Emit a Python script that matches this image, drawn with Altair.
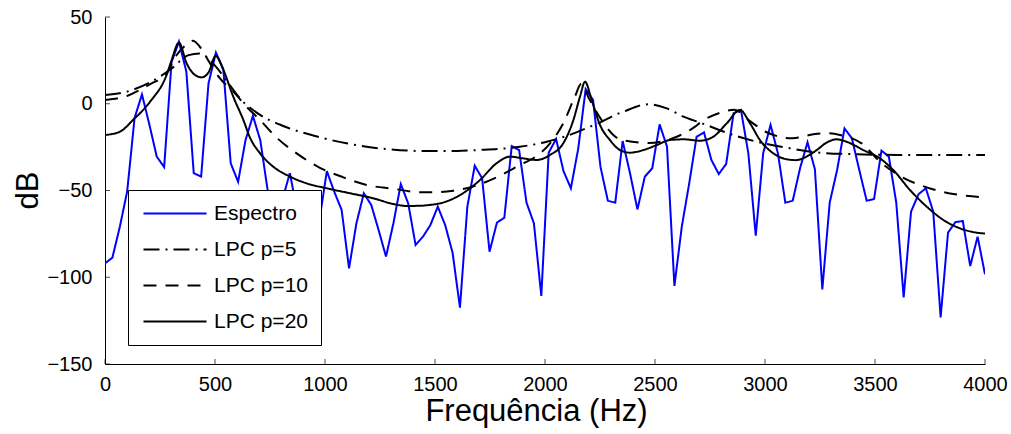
import altair as alt
import numpy as np
import pandas as pd

# ---------------- data ----------------
spec_db = [
    -92, -88.7, -71, -50.5, -8.2, 5.4, -12, -30.5, -36.5, 24,
    35.8, 18.5, -40, -42, 11.8, 29.5, 20, -34.3, -45, -21,
    -7, -21, -50, -70, -55, -40, -62, -80, -75, -67,
    -38.8, -50.7, -61.2, -94.9, -68.9, -51.6, -58.3, -72.8, -88.1, -68.9,
    -46.3, -57.4, -81.4, -76.6, -69.9, -59.3, -69.9, -85.8, -117.5, -59.3,
    -35.7, -43, -85.3, -68.5, -65.7, -24.4, -26.7, -57, -68.9, -110.8,
    -28.2, -20.3, -38.8, -48.7, -25.7, 8.5, 2.2, -36.3, -55.9, -57,
    -21.5, -40.1, -60.9, -42, -37.2, -11.9, -24.7, -105, -70.8, -45.9,
    -19, -16.5, -32.4, -40.5, -34.7, -5.5, -3.6, -28.6, -76, -28.6,
    -12.2, -28.6, -57, -55.9, -37, -22.2, -37.8, -107, -57, -38.2,
    -14.2, -19.9, -38.2, -55.9, -54.9, -27, -30.5, -57, -111.6, -62.2,
    -52.2, -48.7, -62.2, -123.1, -74.3, -68.2, -67.6, -93.5, -76.6, -98.3,
]
spec_f = list(np.linspace(0, 4000, len(spec_db)))

p5_f = [0, 100, 200, 300, 380, 430, 500, 560, 614, 700, 810, 955, 1098, 1295, 1439,
        1600, 1689, 1886, 2008, 2098, 2205, 2258, 2318, 2356, 2470, 2550, 2629, 2705,
        2870, 3000, 3114, 3250, 3417, 3600, 3800, 4000]
p5_db = [5, 7, 12, 20, 28, 29, 22, 12, 3, -6, -12.8, -18.6, -22.8, -26.3, -27.2,
         -27.2, -26.7, -24.8, -21.9, -18.6, -13.2, -10.3, -6.5, -4.6, -0.3, -2.5, -7.4, -10.9,
         -18.6, -23, -25.7, -28.2, -29.1, -29.5, -29.5, -29.5]

p10_f = [0, 100, 212, 273, 326, 370, 400, 430, 477, 520, 591, 636, 705, 780, 871, 977,
         1083, 1189, 1311, 1432, 1500, 1584, 1659, 1780, 1886, 1962, 2023, 2083, 2136,
         2165, 2200, 2250, 2348, 2470, 2576, 2682, 2705, 2800, 2860, 2932, 3000, 3124,
         3220, 3280, 3341, 3439, 3530, 3614, 3735, 3856, 4000]
p10_db = [2.2, 4.5, 11.8, 16.2, 28.1, 34, 36.3, 33, 23.3, 15, 6.0, -0.7, -9.4, -19.5, -28.6, -36.9,
          -42.4, -46.8, -49, -51, -51, -50.1, -48.2, -42.4, -35.3, -30.1, -22.8, -11.3, 4.1,
          11.5, 3, -8, -20.9, -22.6, -20.1, -13.2, -10.9, -5, -3.5, -10, -16, -19.9,
          -17.6, -17, -18, -22.8, -34.3, -41.6, -48.2, -52, -54]

p20_f = [0, 68, 127, 205, 280, 303, 336, 371, 409, 439, 470, 503, 538, 583, 629, 659, 705,
         765, 841, 917, 1007, 1114, 1220, 1311, 1371, 1432, 1477, 1523, 1614, 1705, 1780,
         1841, 1902, 1962, 2023, 2083, 2129, 2159, 2182, 2212, 2250, 2295, 2341, 2386, 2447,
         2508, 2568, 2629, 2705, 2765, 2826, 2886, 2932, 2977, 3038, 3098, 3140, 3180, 3235,
         3280, 3326, 3371, 3447, 3523, 3583, 3659, 3735, 3811, 3886, 3962, 4000]
p20_db = [-18, -16.1, -9.4, 1.2, 16.6, 25.2, 35.2, 23.3, 16.6, 15.2, 17.9, 27.5, 19.5, 4.1, -9.4, -19.5, -28.6,
          -36.3, -42, -45.9, -48.7, -51.6, -54.5, -57.8, -58.9, -58.8, -58.3, -57.4, -52.6, -43.9, -34.3,
          -30.5, -31.5, -32.4, -29.5, -22.8, -9.4, 4.1, 12.7, 2.2, -12.2, -20.9, -26.7, -28.2, -26.7,
          -23.8, -20.9, -20.5, -21.3, -19, -11.3, -3.6, -11.3, -20.9, -28.6, -32, -32.5, -31, -26.7,
          -22.4, -20.5, -21.9, -26.7, -31.5, -38.2, -49.7, -59.3, -67, -71.8, -74.3, -74.8]

series_names = ["Espectro", "LPC p=5", "LPC p=10", "LPC p=20"]
x_ticks = [0, 500, 1000, 1500, 2000, 2500, 3000, 3500, 4000]
y_ticks = [-150, -100, -50, 0, 50]

# ---------------- build tables ----------------
spec_df = pd.DataFrame({"f": spec_f, "db": spec_db, "series": series_names[0]})
frames = []
for name, fs, ds in zip(series_names[1:], [p5_f, p10_f, p20_f], [p5_db, p10_db, p20_db]):
    frames.append(pd.DataFrame({"f": fs, "db": ds, "series": name}))
lpc_df = pd.concat(frames, ignore_index=True)

W, H = 880, 347
FONT = "Liberation Sans"

xscale = alt.Scale(domain=[0, 4000], nice=False, zero=False)
yscale = alt.Scale(domain=[-150, 50], nice=False, zero=False)

xaxis = alt.Axis(title="Frequência (Hz)", values=x_ticks, format="d", ticks=False, tickSize=0, grid=False,
                 domainColor="black", domainWidth=1, labelFont=FONT, labelFontSize=20,
                 labelColor="black", labelPadding=10, labelFlush=False,
                 titleFont=FONT, titleFontSize=31, titleFontWeight="normal", titleColor="black",
                 titleX=431, titleY=47, titleBaseline="middle", titleAlign="center")
yaxis = alt.Axis(title="dB", values=y_ticks, format="d", ticks=False, tickSize=0, grid=False,
                 domainColor="black", domainWidth=1, labelFont=FONT, labelFontSize=20,
                 labelColor="black", labelPadding=13, labelFlush=False,
                 titleFont=FONT, titleFontSize=31, titleFontWeight="normal", titleColor="black",
                 titleX=-77, titleY=173, titleBaseline="middle", titleAlign="center", titleAngle=270)

# long stroke symbol: path in units scaled by sqrt(size)/2
legend = alt.Legend(title=None, orient="none", legendX=23, legendY=173,
                    fillColor="white", strokeColor="black", padding=13, cornerRadius=0,
                    symbolType="M-1.27,0H8.73", symbolSize=159, symbolStrokeWidth=2,
                    labelFont=FONT, labelFontSize=21, labelColor="black", labelOffset=52,
                    rowPadding=14, labelLimit=300)

color_enc = alt.Color("series:N", scale=alt.Scale(domain=series_names,
                      range=["#0000ff", "black", "black", "black"]), legend=legend)
dash_enc = alt.StrokeDash("series:N", scale=alt.Scale(domain=series_names,
                          range=[[1, 0], [16, 6, 2, 6], [13, 9], [1, 0]]), legend=legend)

spec_layer = alt.Chart(spec_df).mark_line(strokeWidth=2, clip=True).encode(
    x=alt.X("f:Q", scale=xscale, axis=xaxis),
    y=alt.Y("db:Q", scale=yscale, axis=yaxis),
    color=color_enc, strokeDash=dash_enc, order=alt.Order("f:Q"),
)
lpc_layer = alt.Chart(lpc_df).mark_line(strokeWidth=2, interpolate="monotone", clip=True).encode(
    x=alt.X("f:Q", scale=xscale, axis=xaxis),
    y=alt.Y("db:Q", scale=yscale, axis=yaxis),
    color=color_enc, strokeDash=dash_enc, order=alt.Order("f:Q"),
)

xt_df = pd.DataFrame({"f": x_ticks})
yt_df = pd.DataFrame({"db": y_ticks})

xtick_layer = alt.Chart(xt_df).mark_tick(orient="vertical", size=5, thickness=1, color="black").encode(
    x=alt.X("f:Q", scale=xscale, axis=xaxis),
    y=alt.value(H - 2.5),
)
ytick_layer = alt.Chart(yt_df).mark_tick(orient="horizontal", size=5, thickness=1, color="black").encode(
    y=alt.Y("db:Q", scale=yscale, axis=yaxis),
    x=alt.value(2.5),
)

chart = alt.layer(spec_layer, lpc_layer, xtick_layer, ytick_layer).properties(
    width=W, height=H,
    autosize=alt.AutoSizeParams(type="none"),
    padding={"left": 105, "top": 17, "right": 26, "bottom": 70},
    background="white",
).configure_view(stroke=None)

chart.save("out.html", embed_options={"renderer": "svg", "actions": False})
